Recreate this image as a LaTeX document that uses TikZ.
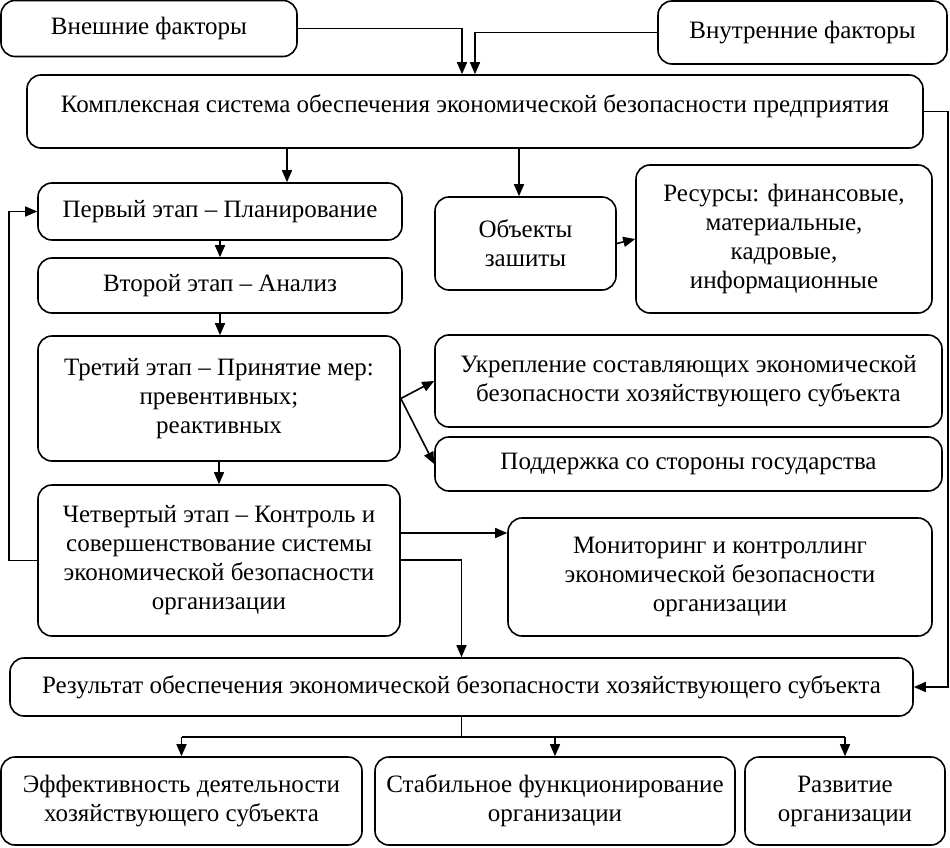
\documentclass[tikz,border=0pt]{standalone}
\usepackage{fontspec}
\setmainfont{Liberation Serif}
\usetikzlibrary{arrows.meta}
\begin{document}
\begin{tikzpicture}[x=1pt,y=-1pt, line width=1.6pt,
  box/.style={draw, rounded corners=14pt, align=center, inner sep=0pt,
    font=\fontsize{25}{29}\selectfont},
  arr/.style={-{Triangle[length=12pt,width=10pt]}}]
\useasboundingbox (0,0) rectangle (950,848);

\node[box, minimum width=296pt, minimum height=56pt] (ext) at (149,28.5) {Внешние факторы};
\node[box, minimum width=289pt, minimum height=63pt] (int) at (802.5,32.5) {Внутренние факторы};
\node[box, minimum width=896pt, minimum height=73pt] (ks) at (475,111.5)
  {\raisebox{16pt}{Комплексная система обеспечения экономической безопасности предприятия}};
\node[box, minimum width=364pt, minimum height=57pt] (p1) at (220,211.5) {Первый этап – Планирование};
\node[box, minimum width=364pt, minimum height=55pt] (p2) at (220,285.5) {Второй этап – Анализ};
\node[box, minimum width=362pt, minimum height=125pt] (p3) at (219,398.5)
  {Третий этап – Принятие мер:\\превентивных;\\реактивных};
\node[box, minimum width=362pt, minimum height=151pt] (p4) at (219,560.5)
  {Четвертый этап – Контроль и\\совершенствование системы\\экономической безопасности\\организации};
\node[box, minimum width=181pt, minimum height=93pt] (obj) at (525.5,243.5) {Объекты\\зашиты};
\node[box, minimum width=296pt, minimum height=148pt] (res) at (784,239)
  {Ресурсы: финансовые,\\материальные,\\кадровые,\\информационные};
\node[box, minimum width=507pt, minimum height=92pt] (ukr) at (688.5,381)
  {Укрепление составляющих экономической\\безопасности хозяйствующего субъекта};
\node[box, minimum width=507pt, minimum height=54pt] (gos) at (688.5,464) {Поддержка со стороны государства};
\node[box, minimum width=424pt, minimum height=118pt] (mon) at (720,577)
  {Мониторинг и контроллинг\\экономической безопасности\\организации};
\node[box, minimum width=903pt, minimum height=58pt] (rez) at (461.5,687)
  {Результат обеспечения экономической безопасности хозяйствующего субъекта};
\node[box, minimum width=361pt, minimum height=88pt] (ef) at (181.5,801)
  {Эффективность деятельности\\хозяйствующего субъекта};
\node[box, minimum width=360pt, minimum height=88pt] (st) at (555,801)
  {Стабильное функционирование\\организации};
\node[box, minimum width=200pt, minimum height=88pt] (rz) at (845,801)
  {Развитие\\организации};

\coordinate (k1) at (287,148);
\coordinate (k2) at (519,148);
\coordinate (m1) at (400,533);
\coordinate (m2) at (400,560);
\coordinate (b0) at (461.5,737);

\draw[arr] (ext.east) -| ([xshift=-13pt]ks.north);
\draw[arr] (int.west) -| (ks.north);
\draw[arr] (k1) -- (k1 |- p1.north);
\draw[arr] (k2) -- (k2 |- obj.north);
\draw[arr] (p1.south) -- (p2.north);
\draw[arr] (p2.south) -- (p2.south |- p3.north);
\draw[arr] (p3.south) -- (p4.north);
\draw[arr] (p4.west) -- ++(-28,0) |- (p1.west);
\draw[arr] (obj.east) -- (res.west);
\draw[arr] (p3.east) -- (ukr.west);
\draw[arr] (p3.east) -- (gos.west);
\draw[arr] (m1) -- (m1 -| mon.west);
\draw[arr] (m2) -| (rez.north);
\draw[arr] (ks.east) -- ++(24,0) |- (rez.east);
\draw (rez.south) -- (b0);
\draw (b0 -| ef.north) -- (b0 -| rz.north);
\draw[arr] (b0 -| ef.north) -- (ef.north);
\draw[arr] (b0 -| st.north) -- (st.north);
\draw[arr] (b0 -| rz.north) -- (rz.north);
\end{tikzpicture}
\end{document}
